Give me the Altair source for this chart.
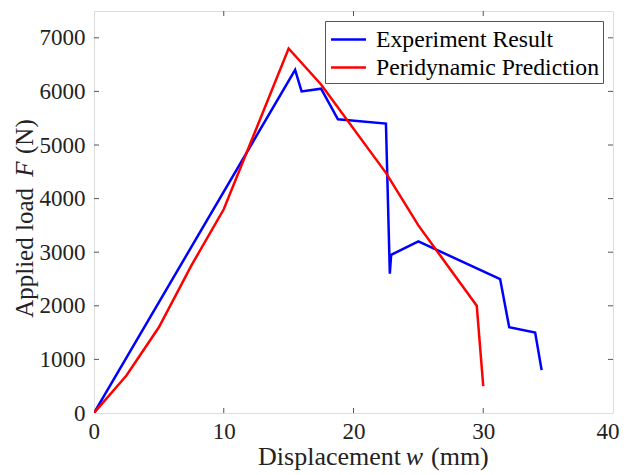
import altair as alt
import pandas as pd

# Experiment Result
exp_x = [0, 15.5, 16.0, 17.5, 18.8, 22.5, 22.8, 22.9, 25.0, 31.3, 32.0, 34.0, 34.5]
exp_y = [0, 6400, 6000, 6050, 5480, 5400, 2600, 2950, 3200, 2500, 1600, 1500, 800]
# Peridynamic Prediction
pd_x = [0, 2.5, 5.0, 7.5, 10.0, 15.0, 17.5, 22.5, 25.0, 29.5, 30.0]
pd_y = [0, 700, 1600, 2750, 3800, 6800, 6130, 4480, 3500, 2000, 500]

series = ["Experiment Result", "Peridynamic Prediction"]
colors = ["#0000FF", "#FF0000"]
x_ticks = [0, 10, 20, 30, 40]
y_ticks = [0, 1000, 2000, 3000, 4000, 5000, 6000, 7000]

W, H = 519, 402
FONT = "Liberation Serif"

rows = []
for i, (a, b) in enumerate(zip(exp_x, exp_y)):
    rows.append({"x": a, "y": b, "s": series[0], "i": i})
for i, (a, b) in enumerate(zip(pd_x, pd_y)):
    rows.append({"x": a, "y": b, "s": series[1], "i": i})
df = pd.DataFrame(rows)

xs = alt.Scale(domain=[0, 40], nice=False)
ys = alt.Scale(domain=[0, 7500], nice=False)

lines = alt.Chart(df).mark_line(strokeWidth=2.5, clip=True).encode(
    x=alt.X("x:Q", scale=xs,
            axis=alt.Axis(values=x_ticks, title=None, ticks=False, domain=False, grid=False,
                          labelFont=FONT, labelFontSize=23, labelColor="#222",
                          labelPadding=7, labelFlush=True, labelFlushOffset=6, format="d")),
    y=alt.Y("y:Q", scale=ys,
            axis=alt.Axis(values=y_ticks, title=None, ticks=False, domain=False, grid=False,
                          labelFont=FONT, labelFontSize=23, labelColor="#222",
                          labelPadding=9, labelFlush=False, format="d")),
    color=alt.Color("s:N", scale=alt.Scale(domain=series, range=colors),
                    legend=alt.Legend(title=None, orient="top-right", offset=10,
                                      labelFont=FONT, labelFontSize=23.7, labelColor="#000",
                                      labelLimit=0,
                                      symbolType="M-1.25,0H1.25", symbolSize=784,
                                      symbolStrokeWidth=2.5, symbolOffset=5,
                                      labelOffset=12, rowPadding=0, padding=3,
                                      strokeColor="#555", fillColor="white", cornerRadius=0)),
    order="i:Q",
)

xt = pd.DataFrame({"v": x_ticks[1:-1]})
yt = pd.DataFrame({"v": y_ticks[1:]})
tick_col = "#555"
bottom = alt.Chart(xt).mark_rule(color=tick_col, strokeWidth=1).encode(
    x=alt.X("v:Q", scale=xs), y=alt.value(H), y2=alt.value(H - 5))
top = alt.Chart(xt).mark_rule(color=tick_col, strokeWidth=1).encode(
    x=alt.X("v:Q", scale=xs), y=alt.value(0), y2=alt.value(5))
left = alt.Chart(yt).mark_rule(color=tick_col, strokeWidth=1).encode(
    y=alt.Y("v:Q", scale=ys), x=alt.value(0), x2=alt.value(5))
right = alt.Chart(yt).mark_rule(color=tick_col, strokeWidth=1).encode(
    y=alt.Y("v:Q", scale=ys), x=alt.value(W - 5), x2=alt.value(W))

# Axis titles with italic variable symbols
tfs = 26
x_t1 = alt.Chart(pd.DataFrame({"t": ["Displacement"]})).mark_text(
    font=FONT, fontSize=tfs, align="right", baseline="alphabetic", color="#222").encode(
    text="t:N", x=alt.value(307), y=alt.value(454))
x_t2 = alt.Chart(pd.DataFrame({"t": ["w"]})).mark_text(
    font=FONT, fontSize=tfs, fontStyle="italic", align="center", baseline="alphabetic", color="#222").encode(
    text="t:N", x=alt.value(320.5), y=alt.value(454))
x_t3 = alt.Chart(pd.DataFrame({"t": ["(mm)"]})).mark_text(
    font=FONT, fontSize=tfs, align="left", baseline="alphabetic", color="#222").encode(
    text="t:N", x=alt.value(337), y=alt.value(454))

yfs = 25
y_t1 = alt.Chart(pd.DataFrame({"t": ["Applied load"]})).mark_text(
    font=FONT, fontSize=yfs, align="right", baseline="alphabetic", angle=270, color="#222").encode(
    text="t:N", x=alt.value(-61), y=alt.value(177))
y_t2 = alt.Chart(pd.DataFrame({"t": ["F"]})).mark_text(
    font=FONT, fontSize=yfs, fontStyle="italic", align="center", baseline="alphabetic", angle=270, color="#222").encode(
    text="t:N", x=alt.value(-61), y=alt.value(158))
y_t3 = alt.Chart(pd.DataFrame({"t": ["(N)"]})).mark_text(
    font=FONT, fontSize=yfs, align="left", baseline="alphabetic", angle=270, color="#222").encode(
    text="t:N", x=alt.value(-61), y=alt.value(143))

chart = alt.layer(lines, bottom, top, left, right, x_t1, x_t2, x_t3, y_t1, y_t2, y_t3).properties(
    width=W, height=H,
    autosize=alt.AutoSizeParams(type="none"),
    padding={"left": 86, "top": 3, "right": 6, "bottom": 60},
).configure_view(stroke="#555", strokeWidth=1).configure(background="white")

chart.save("out.html", embed_options={"renderer": "svg", "actions": False})
